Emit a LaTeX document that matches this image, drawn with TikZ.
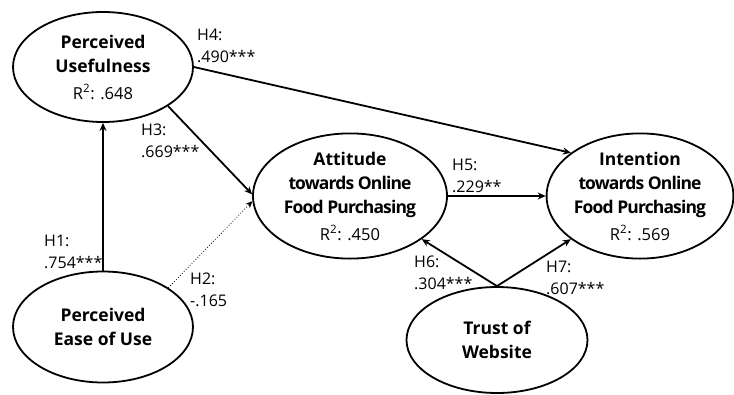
\documentclass[tikz,border=0pt]{standalone}
\usepackage{fontspec}
\setmainfont{Open Sans}
\usetikzlibrary{arrows.meta,shapes.geometric}
\begin{document}
\begin{tikzpicture}[x=1pt,y=-1pt,
  construct/.style={ellipse,draw,line width=1.8pt,inner sep=0pt,align=center,
    font=\fontsize{17.5}{24}\selectfont\bfseries},
  path/.style={line width=1.8pt,-{Stealth[length=8pt,width=7pt]}},
  weakpath/.style={line width=0.8pt,dotted,-{Stealth[length=7pt,width=6pt]}},
  coef/.style={align=left,inner sep=0pt,anchor=west,font=\fontsize{16}{22}\selectfont}]
\useasboundingbox (0,0) rectangle (734,394);
\newcommand{\rsq}[1]{\\[3pt]{\normalfont\fontsize{16.5}{24}\selectfont R\textsuperscript{2}: #1}}
\node[construct,minimum width=180pt,minimum height=110pt] (pu) at (103,67)
  {Perceived\\Usefulness\rsq{.648}};
\node[construct,minimum width=194pt,minimum height=110pt] (att) at (350,196)
  {Attitude\\\addfontfeature{LetterSpace=-5}towards Online\\\addfontfeature{LetterSpace=-5}Food Purchasing\rsq{.450}};
\node[construct,minimum width=184pt,minimum height=110pt] (int) at (640,196)
  {Intention\\\addfontfeature{LetterSpace=-5}towards Online\\\addfontfeature{LetterSpace=-5}Food Purchasing\rsq{.569}};
\node[construct,minimum width=180pt,minimum height=111pt] (peou) at (103,327)
  {Perceived\\Ease of Use};
\node[construct,minimum width=181pt,minimum height=106pt] (trust) at (497,340)
  {Trust of\\Website};
\draw[path] (peou.90) -- (pu.-90);
\draw[weakpath] (peou.31) -- (att.183);
\draw[path] (pu.-31) -- (att.179);
\draw[path] (pu.0) -- (int.148);
\draw[path] (att.east) -- (int.west);
\draw[path] (trust.north) -- (att.-31);
\draw[path] (trust.north) -- (int.-148);
\node[coef] (h1) at (44,252) {H1:\\.754***};
\node[coef] (h2) at (190,290) {H2:\\-.165};
\node[coef] (h3) at (141,141) {H3:\\.669***};
\node[coef] (h4) at (197,46) {H4:\\.490***};
\node[coef] (h5) at (452,176) {H5:\\.229**};
\node[coef] (h6) at (414,273) {H6:\\.304***};
\node[coef] (h7) at (546,278) {H7:\\.607***};
\end{tikzpicture}
\end{document}
